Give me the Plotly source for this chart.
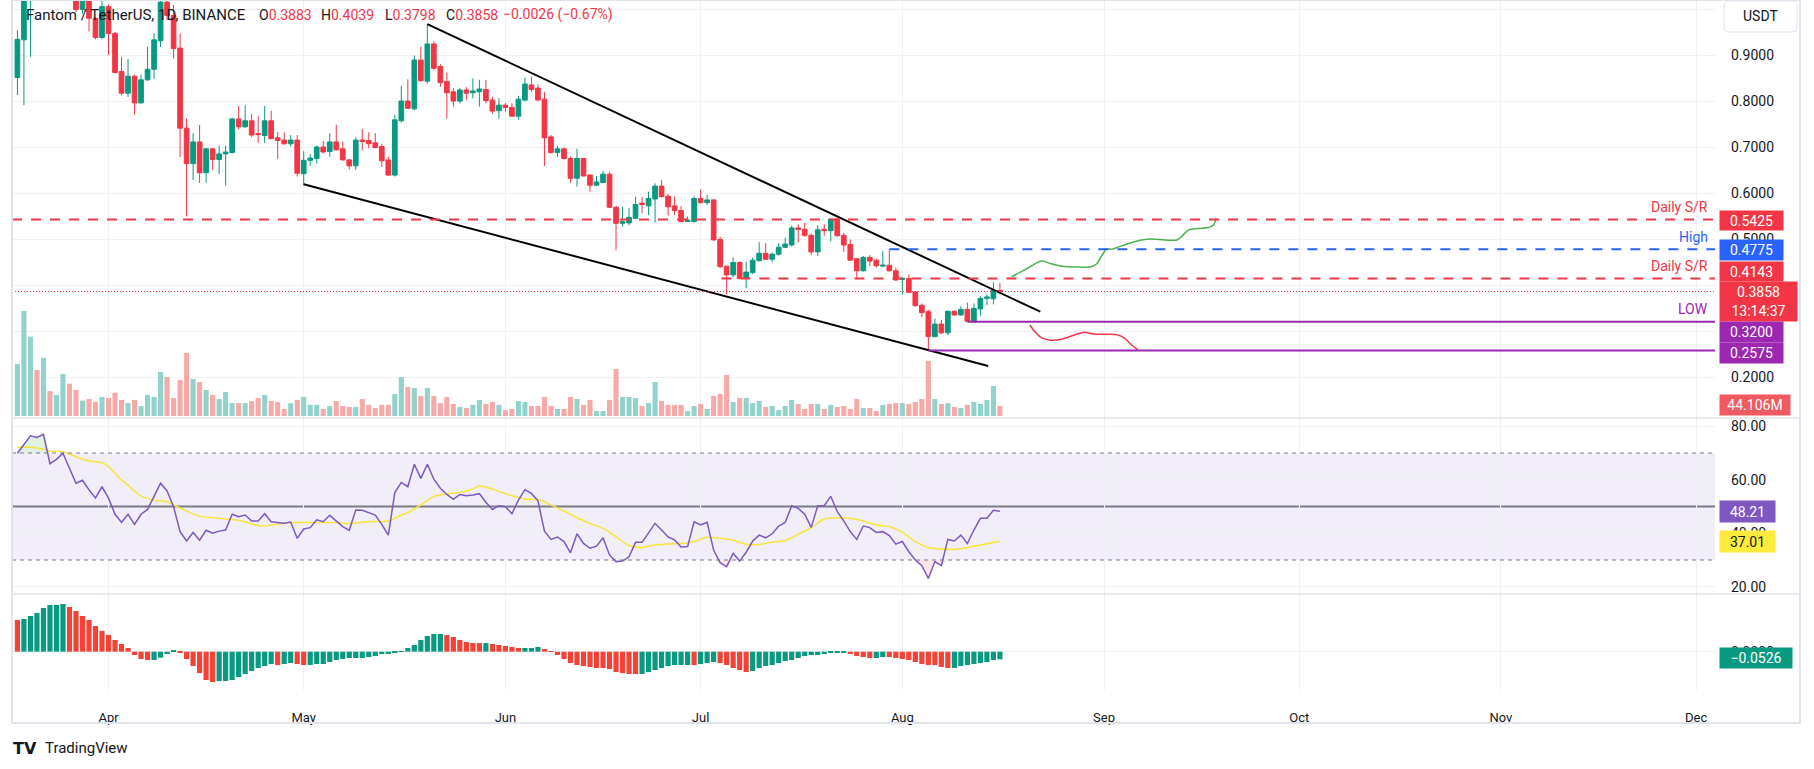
import pandas as pd
import numpy as np
import plotly.graph_objects as go

# ---------------- data ----------------
start_date = "2024-03-18"

opens = [0.851, 0.933, 1.045, 1.110, 1.060, 1.120, 1.080, 1.110, 1.150, 1.090,
         0.999, 1.035, 0.980, 0.938, 1.005, 0.947, 0.864, 0.817, 0.854, 0.796,
         0.846, 0.869, 0.931, 1.015, 0.986, 0.915, 0.741, 0.664, 0.711, 0.644,
         0.696, 0.673, 0.685, 0.688, 0.761, 0.744, 0.757, 0.729, 0.725, 0.757,
         0.720, 0.715, 0.707, 0.715, 0.642, 0.671, 0.675, 0.700, 0.690, 0.711,
         0.696, 0.672, 0.659, 0.715, 0.714, 0.709, 0.701, 0.672, 0.639, 0.757,
         0.800, 0.783, 0.889, 0.843, 0.924, 0.875, 0.842, 0.820, 0.800, 0.824,
         0.818, 0.820, 0.825, 0.802, 0.779, 0.791, 0.786, 0.767, 0.802, 0.835,
         0.828, 0.804, 0.722, 0.688, 0.696, 0.675, 0.632, 0.675, 0.639, 0.617,
         0.623, 0.641, 0.569, 0.534, 0.535, 0.545, 0.578, 0.572, 0.587, 0.615,
         0.593, 0.572, 0.562, 0.538, 0.538, 0.588, 0.579, 0.585, 0.499, 0.441,
         0.422, 0.449, 0.414, 0.427, 0.453, 0.469, 0.456, 0.467, 0.482, 0.487,
         0.524, 0.521, 0.508, 0.472, 0.521, 0.518, 0.543, 0.508, 0.488, 0.457,
         0.431, 0.460, 0.454, 0.441, 0.443, 0.431, 0.412, 0.414, 0.385, 0.356,
         0.342, 0.288, 0.315, 0.296, 0.343, 0.335, 0.347, 0.320, 0.348, 0.371,
         0.370, 0.3883]

highs = [0.954, 1.065, 1.125, 1.160, 1.150, 1.140, 1.130, 1.180, 1.160, 1.100,
         1.060, 1.045, 0.982, 1.025, 1.010, 0.950, 0.895, 0.891, 0.857, 0.857,
         0.918, 0.947, 1.030, 1.030, 1.009, 0.947, 0.762, 0.730, 0.748, 0.697,
         0.697, 0.703, 0.703, 0.764, 0.789, 0.791, 0.772, 0.767, 0.789, 0.779,
         0.733, 0.732, 0.726, 0.726, 0.691, 0.685, 0.703, 0.713, 0.730, 0.748,
         0.712, 0.674, 0.721, 0.739, 0.732, 0.730, 0.707, 0.679, 0.770, 0.833,
         0.847, 0.899, 0.918, 0.967, 0.930, 0.880, 0.862, 0.828, 0.828, 0.830,
         0.849, 0.846, 0.846, 0.809, 0.806, 0.796, 0.795, 0.811, 0.851, 0.853,
         0.836, 0.820, 0.726, 0.702, 0.699, 0.679, 0.696, 0.676, 0.641, 0.637,
         0.648, 0.646, 0.572, 0.570, 0.567, 0.592, 0.591, 0.603, 0.621, 0.628,
         0.598, 0.592, 0.572, 0.549, 0.593, 0.608, 0.596, 0.586, 0.505, 0.441,
         0.460, 0.451, 0.451, 0.460, 0.493, 0.491, 0.471, 0.491, 0.503, 0.529,
         0.532, 0.535, 0.512, 0.530, 0.532, 0.545, 0.545, 0.513, 0.499, 0.458,
         0.463, 0.465, 0.458, 0.474, 0.4775, 0.438, 0.418, 0.423, 0.386, 0.360,
         0.346, 0.327, 0.324, 0.344, 0.345, 0.354, 0.362, 0.360, 0.376, 0.380,
         0.406, 0.4039]

lows = [0.813, 0.791, 0.896, 1.040, 1.040, 1.060, 1.060, 1.090, 1.070, 0.993,
        0.990, 0.951, 0.934, 0.934, 0.900, 0.860, 0.813, 0.809, 0.770, 0.794,
        0.844, 0.848, 0.917, 0.976, 0.892, 0.678, 0.549, 0.628, 0.622, 0.622,
        0.650, 0.641, 0.616, 0.686, 0.738, 0.741, 0.721, 0.709, 0.709, 0.717,
        0.674, 0.705, 0.701, 0.636, 0.617, 0.659, 0.664, 0.686, 0.679, 0.692,
        0.670, 0.651, 0.650, 0.693, 0.697, 0.697, 0.657, 0.638, 0.636, 0.753,
        0.783, 0.780, 0.843, 0.838, 0.867, 0.831, 0.762, 0.788, 0.795, 0.802,
        0.806, 0.788, 0.795, 0.772, 0.761, 0.777, 0.766, 0.759, 0.799, 0.820,
        0.801, 0.659, 0.685, 0.679, 0.673, 0.622, 0.614, 0.636, 0.603, 0.615,
        0.621, 0.567, 0.475, 0.527, 0.530, 0.543, 0.556, 0.552, 0.536, 0.590,
        0.551, 0.552, 0.536, 0.537, 0.536, 0.577, 0.574, 0.496, 0.436, 0.380,
        0.417, 0.412, 0.393, 0.424, 0.451, 0.455, 0.449, 0.464, 0.480, 0.484,
        0.493, 0.505, 0.465, 0.463, 0.507, 0.495, 0.505, 0.472, 0.453, 0.414,
        0.429, 0.441, 0.438, 0.440, 0.429, 0.409, 0.379, 0.383, 0.353, 0.330,
        0.2575, 0.286, 0.293, 0.291, 0.333, 0.333, 0.320, 0.319, 0.333, 0.356,
        0.358, 0.3798]

closes = [0.934, 1.045, 1.100, 1.060, 1.120, 1.080, 1.110, 1.150, 1.090, 0.999,
          1.035, 0.980, 0.938, 1.005, 0.947, 0.862, 0.817, 0.854, 0.796, 0.846,
          0.869, 0.933, 1.015, 0.986, 0.914, 0.741, 0.664, 0.711, 0.644, 0.696,
          0.673, 0.685, 0.689, 0.761, 0.744, 0.757, 0.726, 0.727, 0.757, 0.718,
          0.714, 0.707, 0.715, 0.643, 0.671, 0.676, 0.700, 0.689, 0.711, 0.694,
          0.672, 0.659, 0.715, 0.712, 0.707, 0.699, 0.670, 0.639, 0.759, 0.800,
          0.784, 0.889, 0.844, 0.924, 0.871, 0.840, 0.818, 0.800, 0.824, 0.817,
          0.822, 0.826, 0.801, 0.778, 0.791, 0.786, 0.767, 0.804, 0.837, 0.825,
          0.802, 0.720, 0.688, 0.696, 0.675, 0.632, 0.675, 0.637, 0.617, 0.624,
          0.641, 0.569, 0.534, 0.538, 0.547, 0.575, 0.575, 0.588, 0.615, 0.592,
          0.570, 0.562, 0.538, 0.541, 0.588, 0.579, 0.585, 0.498, 0.440, 0.422,
          0.449, 0.414, 0.428, 0.454, 0.469, 0.456, 0.467, 0.482, 0.489, 0.524,
          0.521, 0.508, 0.472, 0.520, 0.518, 0.543, 0.507, 0.487, 0.454, 0.431,
          0.460, 0.452, 0.442, 0.443, 0.431, 0.411, 0.414, 0.384, 0.355, 0.340,
          0.288, 0.315, 0.296, 0.343, 0.335, 0.347, 0.321, 0.349, 0.371, 0.374,
          0.3883, 0.3858]

volumes_m = [229, 463, 350, 203, 257, 110, 93, 185, 143, 115,
             68, 75, 62, 84, 79, 103, 71, 57, 71, 44,
             93, 84, 194, 172, 79, 159, 278, 163, 150, 115,
             93, 75, 106, 57, 57, 57, 66, 79, 93, 66,
             62, 31, 57, 71, 84, 49, 49, 31, 44, 66,
             44, 40, 40, 75, 49, 35, 49, 49, 97, 172,
             128, 123, 88, 123, 88, 57, 84, 53, 40, 35,
             49, 71, 53, 62, 49, 26, 31, 66, 62, 44,
             44, 84, 44, 31, 31, 84, 75, 49, 71, 22,
             22, 71, 207, 84, 84, 79, 44, 57, 150, 66,
             49, 49, 49, 22, 44, 53, 31, 88, 97, 181,
             62, 79, 79, 57, 66, 40, 44, 26, 44, 71,
             53, 31, 53, 53, 31, 49, 40, 44, 31, 75,
             35, 35, 22, 49, 53, 57, 57, 53, 62, 75,
             243, 75, 53, 57, 40, 35, 49, 62, 53, 71,
             132, 44.106]

rsi_vals = [69.9, 73.2, 76.4, 75.8, 77.0, 66.0, 67.6, 69.9, 64.3, 58.7,
            59.8, 56.2, 53.2, 57.4, 53.1, 47.1, 44.1, 47.1, 43.3, 47.1,
            48.9, 53.7, 58.7, 55.8, 49.9, 40.6, 37.1, 40.3, 37.4, 41.1,
            40.0, 40.8, 41.2, 47.1, 46.2, 46.8, 44.6, 44.6, 47.3, 44.3,
            44.0, 43.7, 44.2, 38.1, 41.6, 42.1, 45.0, 44.3, 46.7, 44.6,
            42.5, 41.1, 48.7, 48.6, 47.8, 46.8, 43.3, 39.3, 55.2, 59.0,
            57.4, 65.8, 60.5, 65.8, 60.2, 56.8, 54.5, 52.7, 54.5, 54.0,
            54.3, 54.8, 51.6, 48.9, 50.3, 49.9, 47.3, 52.4, 56.3, 54.9,
            52.1, 40.8, 37.7, 38.6, 36.9, 32.7, 39.8, 36.2, 34.4, 35.2,
            38.3, 31.9, 29.4, 29.6, 31.2, 36.6, 36.6, 40.0, 43.7, 41.2,
            38.6, 37.5, 34.9, 35.0, 44.3, 43.1, 44.1, 33.7, 29.0, 27.5,
            32.5, 29.6, 32.9, 37.1, 39.3, 38.3, 39.8, 42.7, 44.0, 50.3,
            49.3, 47.1, 42.2, 50.3, 50.3, 53.8, 48.1, 44.6, 40.6, 37.7,
            42.7, 42.1, 40.3, 40.6, 39.1, 35.9, 36.9, 33.1, 30.0, 27.9,
            23.1, 29.4, 27.9, 37.7, 37.1, 39.3, 36.1, 41.2, 45.6, 45.6,
            48.6, 48.21]

rsi_ma_day = [0, 2, 4, 5, 7, 9, 11, 13, 14, 15, 16, 17, 18, 19, 21, 23, 24, 26, 28, 31,
              33, 35, 37, 38, 41, 43, 46, 49, 51, 54, 57, 59, 60, 62, 64, 66, 68, 70, 71, 73,
              76, 78, 80, 82, 84, 86, 88, 90, 92, 94, 96, 98, 100, 102, 104, 106, 108, 110,
              112, 114, 116, 118, 120, 122, 124, 126, 128, 130, 132, 134, 136, 138, 140,
              142, 144, 146, 148, 151]
rsi_ma_vals = [72.1, 72.1, 71.4, 70.7, 70.5, 68.6, 67.0, 66.4, 64.9, 62.4, 59.9, 58.0, 55.8,
               54.0, 52.3, 51.8, 50.6, 48.3, 46.4, 45.6, 45.1, 44.3, 42.8, 42.7, 43.7, 44.0,
               44.0, 44.0, 43.6, 44.3, 44.6, 46.8, 47.7, 50.6, 53.7, 54.7, 55.3, 56.5, 57.7,
               56.5, 54.0, 52.8, 52.6, 50.6, 48.3, 45.8, 43.7, 41.8, 38.7, 35.4, 34.7, 35.6,
               36.0, 36.1, 36.9, 38.5, 38.1, 37.4, 35.9, 35.8, 36.7, 37.2, 39.6, 42.1, 45.3,
               45.8, 45.6, 44.6, 43.1, 42.5, 40.3, 36.9, 34.7, 34.1, 33.9, 34.6, 35.6, 37.01]

macd_hist = [0.2176, 0.2244, 0.2450, 0.2656, 0.3000, 0.3206, 0.3210, 0.3275, 0.3069, 0.2794,
             0.2450, 0.2176, 0.1763, 0.1420, 0.1145, 0.0802, 0.0527, 0.0252, -0.0229, -0.0504,
             -0.0573, -0.0572, -0.0412, -0.0160, 0.0115, -0.0092, -0.0504, -0.0985, -0.1466, -0.1947,
             -0.2084, -0.2015, -0.2010, -0.1947, -0.1740, -0.1534, -0.1328, -0.1122, -0.0985, -0.0847,
             -0.0916, -0.0847, -0.0779, -0.0847, -0.0916, -0.0910, -0.0847, -0.0845, -0.0710, -0.0573,
             -0.0504, -0.0435, -0.0433, -0.0431, -0.0366, -0.0298, -0.0160, -0.0158, -0.0092, 0.0046,
             0.0252, 0.0458, 0.0802, 0.1076, 0.1214, 0.1216, 0.1145, 0.1008, 0.0802, 0.0664,
             0.0595, 0.0590, 0.0592, 0.0527, 0.0458, 0.0389, 0.0321, 0.0252, 0.0253, 0.0254,
             0.0321, 0.0183, 0.0046, -0.0229, -0.0504, -0.0779, -0.0916, -0.0985, -0.1053, -0.1122,
             -0.1125, -0.1191, -0.1397, -0.1466, -0.1534, -0.1536, -0.1533, -0.1397, -0.1260, -0.1122,
             -0.0985, -0.0916, -0.0915, -0.0914, -0.0918, -0.0847, -0.0779, -0.0710, -0.0779, -0.0916,
             -0.1122, -0.1260, -0.1397, -0.1328, -0.1122, -0.0985, -0.0916, -0.0779, -0.0641, -0.0573,
             -0.0435, -0.0298, -0.0229, -0.0228, -0.0160, -0.0092, -0.0091, -0.0090, -0.0160, -0.0298,
             -0.0366, -0.0435, -0.0434, -0.0366, -0.0368, -0.0435, -0.0504, -0.0573, -0.0710, -0.0847,
             -0.0916, -0.0918, -0.1053, -0.1122, -0.1121, -0.0985, -0.0916, -0.0847, -0.0779, -0.0710,
             -0.0573, -0.0526]

month_ticks = ["2024-04-01", "2024-05-01", "2024-06-01", "2024-07-01", "2024-08-01",
               "2024-09-01", "2024-10-01", "2024-11-01", "2024-12-01"]
month_labels = ["Apr", "May", "Jun", "Jul", "Aug", "Sep", "Oct", "Nov", "Dec"]
price_ticks = [0.2, 0.3, 0.4, 0.5, 0.6, 0.7, 0.8, 0.9, 1.0]
# 0.3000 / 0.4000 / 1.0000 are fully hidden under the coloured labels in the reference
price_tick_labels = ["0.2000", "", "", "0.5000", "0.6000", "0.7000", "0.8000", "0.9000", ""]
rsi_ticks = [20, 40, 60, 80]
rsi_tick_labels = ["20.00", "40.00", "60.00", "80.00"]

# levels / drawings (price, and start as day offset from first candle)
sr_upper = 0.5425
swing_high = 0.4775
swing_high_start = 134
sr_lower = 0.4143
sr_lower_start = 108.2
last_price = 0.3858
low_level_1 = 0.3200
low_level_1_start = 146
low_level_2 = 0.2575
low_level_2_start = 140
last_volume = 44.106
last_rsi = 48.21
last_rsi_ma = 37.01
last_macd = -0.0526

upper_trend_day = [63, 157.2]
upper_trend_price = [0.967, 0.342]
lower_trend_day = [44, 149.2]
lower_trend_price = [0.619, 0.224]

bull_path_day = [152.8, 154.3, 155.8, 157.4, 158.9, 160.5, 163.0, 164.8, 165.8, 166.6, 167.4,
                 168.2, 169.7, 171.2, 172.8, 174.3, 176.4, 178.2, 178.9, 180.0, 181.5, 183.0,
                 183.8, 184.2]
bull_path_price = [0.418, 0.429, 0.441, 0.452, 0.446, 0.441, 0.439, 0.439, 0.445, 0.463, 0.478,
                   0.478, 0.485, 0.492, 0.498, 0.500, 0.498, 0.498, 0.505, 0.520, 0.523, 0.525,
                   0.530, 0.545]
bear_path_day = [155.6, 156.4, 157.4, 158.9, 160.5, 162.0, 163.8, 165.6, 167.6, 169.2, 170.2,
                 171.2, 172.2]
bear_path_price = [0.313, 0.298, 0.285, 0.280, 0.282, 0.289, 0.297, 0.293, 0.293, 0.291, 0.284,
                   0.270, 0.259]

# ---------------- layout helpers ----------------
W, H = 1814, 769
PL, PR, PT, PB = 12, 1715, 0, 690
PW, PH = PR - PL, PB - PT


def PX(x):
    return (x - PL) / PW


def PY(y):
    return 1 - (y - PT) / PH


UP = "#089981"
DN = "#F23645"
UPV = "#92D2CC"
DNV = "#F7A9A7"
TXT = "#131722"
GRID = "#F0F1F4"
FONT = "Roboto"

base = pd.Timestamp(start_date)
dates = pd.date_range(base, periods=len(closes), freq="D")


def day(d):
    return base + pd.to_timedelta(np.asarray(d, dtype=float), unit="D")


x_range = [base - pd.Timedelta(hours=20), base + pd.Timedelta(days=260.9)]
xr_end = x_range[1]

up_mask = [c >= o for o, c in zip(opens, closes)]
vol_colors = [UPV if u else DNV for u in up_mask]
macd_colors = ["#F44336"] + [UP if macd_hist[i] >= macd_hist[i - 1] else "#F44336"
                             for i in range(1, len(macd_hist))]

fig = go.Figure()

# volume (overlay on price pane)
fig.add_trace(go.Bar(x=dates, y=volumes_m, marker_color=vol_colors, marker_line_width=0,
                     width=0.78 * 86400000, xaxis="x", yaxis="y4", hoverinfo="skip",
                     showlegend=False))

# candles
fig.add_trace(go.Candlestick(x=dates, open=opens, high=highs, low=lows, close=closes,
                             increasing=dict(line=dict(color=UP, width=1), fillcolor=UP),
                             decreasing=dict(line=dict(color=DN, width=1), fillcolor=DN),
                             whiskerwidth=0, xaxis="x", yaxis="y", hoverinfo="skip",
                             showlegend=False))

# trendlines and projection paths
fig.add_trace(go.Scatter(x=day(upper_trend_day), y=upper_trend_price, mode="lines",
                         line=dict(color="#000000", width=2), xaxis="x", yaxis="y",
                         hoverinfo="skip", showlegend=False))
fig.add_trace(go.Scatter(x=day(lower_trend_day), y=lower_trend_price, mode="lines",
                         line=dict(color="#000000", width=2), xaxis="x", yaxis="y",
                         hoverinfo="skip", showlegend=False))
fig.add_trace(go.Scatter(x=day(bull_path_day), y=bull_path_price, mode="lines",
                         line=dict(color="#4CAF50", width=1.5, shape="spline"), xaxis="x",
                         yaxis="y", hoverinfo="skip", showlegend=False))
fig.add_trace(go.Scatter(x=day(bear_path_day), y=bear_path_price, mode="lines",
                         line=dict(color="#F23645", width=1.5, shape="spline"), xaxis="x",
                         yaxis="y", hoverinfo="skip", showlegend=False))

# RSI fills (overbought / oversold)
rsi_arr = np.array(rsi_vals)
fig.add_trace(go.Scatter(x=dates, y=[70] * len(dates), mode="lines", line=dict(width=0),
                         xaxis="x2", yaxis="y2", hoverinfo="skip", showlegend=False))
fig.add_trace(go.Scatter(x=dates, y=np.maximum(rsi_arr, 70), mode="lines", line=dict(width=0),
                         fill="tonexty", fillcolor="rgba(76,175,80,0.18)", xaxis="x2",
                         yaxis="y2", hoverinfo="skip", showlegend=False))
fig.add_trace(go.Scatter(x=dates, y=[30] * len(dates), mode="lines", line=dict(width=0),
                         xaxis="x2", yaxis="y2", hoverinfo="skip", showlegend=False))
fig.add_trace(go.Scatter(x=dates, y=np.minimum(rsi_arr, 30), mode="lines", line=dict(width=0),
                         fill="tonexty", fillcolor="rgba(242,54,69,0.12)", xaxis="x2",
                         yaxis="y2", hoverinfo="skip", showlegend=False))
# RSI MA and RSI
fig.add_trace(go.Scatter(x=day(rsi_ma_day), y=rsi_ma_vals, mode="lines",
                         line=dict(color="#F9E43A", width=1.5, shape="spline", smoothing=0.8),
                         xaxis="x2", yaxis="y2", hoverinfo="skip", showlegend=False))
fig.add_trace(go.Scatter(x=dates, y=rsi_vals, mode="lines",
                         line=dict(color="#7E57C2", width=1.5), xaxis="x2", yaxis="y2",
                         hoverinfo="skip", showlegend=False))

# MACD histogram
fig.add_trace(go.Bar(x=dates, y=macd_hist, marker_color=macd_colors, marker_line_width=0,
                     width=0.8 * 86400000, xaxis="x3", yaxis="y3", hoverinfo="skip",
                     showlegend=False))

# ---------------- axes ----------------
main_dom = [PY(418), 1.0]
rsi_dom = [PY(594), PY(418)]
macd_dom = [0.0, PY(594)]

xcommon = dict(type="date", range=x_range, showgrid=True, gridcolor=GRID, gridwidth=1,
               tickvals=month_ticks, ticktext=month_labels, zeroline=False, showline=False,
               ticks="", fixedrange=True)

fig.update_layout(
    width=W, height=H,
    margin=dict(l=PL, r=W - PR, t=PT, b=H - PB, pad=0),
    paper_bgcolor="white", plot_bgcolor="white",
    showlegend=False, hovermode=False,
    boxgap=0.28, boxgroupgap=0, bargap=0.2,
    font=dict(family=FONT, color=TXT, size=14),
    xaxis=dict(**xcommon, anchor="y", showticklabels=False, rangeslider=dict(visible=False)),
    xaxis2=dict(**xcommon, anchor="y2", matches="x", showticklabels=False),
    xaxis3=dict(**xcommon, anchor="y3", matches="x", showticklabels=True,
                tickfont=dict(size=13, color=TXT, family=FONT), ticklabelstandoff=18),
    yaxis=dict(domain=main_dom, range=[0.11087, 1.01957], side="right", tickvals=price_ticks,
               ticktext=price_tick_labels, showgrid=True, gridcolor=GRID, zeroline=False,
               ticks="", ticklabelstandoff=15, tickfont=dict(size=14, color=TXT), fixedrange=True),
    yaxis4=dict(domain=main_dom, overlaying="y", range=[-8.8, 1834.6], visible=False,
                fixedrange=True),
    yaxis2=dict(domain=rsi_dom, range=[17.29, 83.08], side="right", tickvals=rsi_ticks,
                ticktext=rsi_tick_labels, showgrid=True, gridcolor=GRID, zeroline=False,
                ticks="", ticklabelstandoff=15, tickfont=dict(size=14, color=TXT), fixedrange=True),
    yaxis3=dict(domain=macd_dom, range=[-0.263, 0.396], side="right", tickvals=[0],
                ticktext=["0.0000"], showgrid=True, gridcolor=GRID, zeroline=False,
                ticks="", ticklabelstandoff=15, tickfont=dict(size=14, color=TXT), fixedrange=True),
)

shapes = []
# RSI band and guide lines
shapes.append(dict(type="rect", xref="paper", x0=0, x1=1, yref="y2", y0=30, y1=70,
                   fillcolor="rgba(126,87,194,0.10)", line=dict(width=0), layer="below"))
for lvl in (70, 30):
    shapes.append(dict(type="line", xref="paper", x0=0, x1=1, yref="y2", y0=lvl, y1=lvl,
                       line=dict(color="#787B86", width=1, dash="4px,4px"), layer="above"))
shapes.append(dict(type="line", xref="paper", x0=0, x1=1, yref="y2", y0=50, y1=50,
                   line=dict(color="#787B86", width=2), layer="below"))

# horizontal levels on price pane
shapes.append(dict(type="line", xref="paper", x0=0, x1=1, yref="y", y0=sr_upper, y1=sr_upper,
                   line=dict(color="#F23645", width=2, dash="10px,9px"), layer="above"))
shapes.append(dict(type="line", xref="x", x0=day(swing_high_start), x1=xr_end, yref="y",
                   y0=swing_high, y1=swing_high,
                   line=dict(color="#2962FF", width=2, dash="10px,9px"), layer="above"))
shapes.append(dict(type="line", xref="x", x0=day(sr_lower_start), x1=xr_end, yref="y",
                   y0=sr_lower, y1=sr_lower,
                   line=dict(color="#F23645", width=2, dash="10px,9px"), layer="above"))
shapes.append(dict(type="line", xref="paper", x0=0, x1=1, yref="y", y0=last_price, y1=last_price,
                   line=dict(color="#F23645", width=1, dash="1px,2px"), layer="above"))
shapes.append(dict(type="line", xref="x", x0=day(low_level_1_start), x1=xr_end, yref="y",
                   y0=low_level_1, y1=low_level_1, line=dict(color="#9C27B0", width=2),
                   layer="above"))
shapes.append(dict(type="line", xref="x", x0=day(low_level_2_start), x1=xr_end, yref="y",
                   y0=low_level_2, y1=low_level_2, line=dict(color="#9C27B0", width=2),
                   layer="above"))

# pane separators & frame
for yy in (418, 594):
    shapes.append(dict(type="line", xref="paper", x0=PX(12), x1=PX(1800), yref="paper",
                       y0=PY(yy), y1=PY(yy), line=dict(color="#E0E3EB", width=1.5),
                       layer="above"))
shapes.append(dict(type="rect", xref="paper", x0=PX(12), x1=PX(1800), yref="paper",
                   y0=PY(723), y1=PY(0), line=dict(color="#E0E3EB", width=2),
                   fillcolor="rgba(0,0,0,0)", layer="above"))

# USDT box (rounded)
bx0, bx1, by0, by1, r = 1724, 1797, 1, 32, 5
path = (f"M {PX(bx0 + r)},{PY(by0)} L {PX(bx1 - r)},{PY(by0)} Q {PX(bx1)},{PY(by0)} {PX(bx1)},{PY(by0 + r)} "
        f"L {PX(bx1)},{PY(by1 - r)} Q {PX(bx1)},{PY(by1)} {PX(bx1 - r)},{PY(by1)} "
        f"L {PX(bx0 + r)},{PY(by1)} Q {PX(bx0)},{PY(by1)} {PX(bx0)},{PY(by1 - r)} "
        f"L {PX(bx0)},{PY(by0 + r)} Q {PX(bx0)},{PY(by0)} {PX(bx0 + r)},{PY(by0)} Z")
shapes.append(dict(type="path", path=path, xref="paper", yref="paper",
                   line=dict(color="#E0E3EB", width=1), fillcolor="white", layer="above"))
fig.update_layout(shapes=shapes)

# ---------------- annotations ----------------
ann = []


def label_box(text, yref, y, bg, width, height=19, yshift=0, fc="white"):
    return dict(text=text, xref="paper", x=PX(1719), xanchor="left", yref=yref, y=y,
                yanchor="middle", yshift=yshift, showarrow=False, bgcolor=bg, width=width,
                height=height, borderpad=0, align="center",
                font=dict(color=fc, size=14, family=FONT))


ann.append(label_box(f"{sr_upper:.4f}", "y", sr_upper, "#F23645", 63, yshift=-1))
ann.append(label_box(f"{swing_high:.4f}", "y", swing_high, "#2962FF", 63, height=20, yshift=-1))
ann.append(label_box(f"{sr_lower:.4f}", "y", sr_lower, "#F23645", 63, yshift=7))
ann.append(label_box(f"{last_price:.4f}<br>13:14:37", "y", last_price, "#F23645", 77, height=39,
                     yshift=-10))
ann.append(label_box(f"{low_level_1:.4f}", "y", low_level_1, "#9C27B0", 63, height=20, yshift=-10))
ann.append(label_box(f"{low_level_2:.4f}", "y", low_level_2, "#9C27B0", 63, height=20, yshift=-2))
ann.append(dict(text=f"{last_volume:.3f}M", xref="paper", x=PX(1719), xanchor="left",
                yref="paper", y=PY(405), yanchor="middle", showarrow=False, bgcolor="#F05A60",
                width=70, height=20, borderpad=0, font=dict(color="white", size=14, family=FONT)))
ann.append(label_box(f"{last_rsi:.2f}", "y2", last_rsi, "#7E57C2", 55, height=21))
ann.append(label_box(f"{last_rsi_ma:.2f}", "y2", last_rsi_ma, "#FFEB3B", 55, height=21, fc=TXT))
ann.append(label_box(f"\u2212{abs(last_macd):.4f}", "y3", last_macd, "#089981", 72, height=20,
                     yshift=1))

# level captions
for txt, y, col in (("Daily S/R", sr_upper, "#F23645"), ("High", swing_high, "#2962FF"),
                    ("Daily S/R", sr_lower, "#F23645"), ("LOW", low_level_1, "#9C27B0")):
    ann.append(dict(text=txt, xref="paper", x=PX(1710), xanchor="right", yref="y", y=y,
                    yanchor="middle", yshift=12.5, showarrow=False,
                    font=dict(color=col, size=14, family=FONT)))

# USDT
ann.append(dict(text="USDT", xref="paper", x=PX(1760), xanchor="center", yref="paper",
                y=PY(16), yanchor="middle", showarrow=False,
                font=dict(color=TXT, size=14, family=FONT)))

# header legend
RED = "#F23645"
head_items = [
    (24, "Fantom / TetherUS, 1D, BINANCE", TXT, 15),
    (257, f"O<span style='color:{RED}'>{opens[-1]:.4f}</span>", TXT, 14),
    (319, f"H<span style='color:{RED}'>{highs[-1]:.4f}</span>", TXT, 14),
    (383, f"L<span style='color:{RED}'>{lows[-1]:.4f}</span>", TXT, 14),
    (444, f"C<span style='color:{RED}'>{closes[-1]:.4f}</span>", TXT, 14),
    (501, "\u22120.0026 (\u22120.67%)", RED, 14),
]
for xpx, txt, col, fs in head_items:
    ann.append(dict(text=txt, xref="paper", x=PX(xpx), xanchor="left", yref="paper", y=PY(15),
                    yanchor="middle", showarrow=False,
                    font=dict(color=col, size=fs, family=FONT)))

# footer
ann.append(dict(text="<b>TV</b>", xref="paper", x=PX(11), xanchor="left", yref="paper",
                y=PY(748), yanchor="middle", showarrow=False,
                font=dict(color=TXT, size=16, family="DejaVu Sans")))
ann.append(dict(text="TradingView", xref="paper", x=PX(43), xanchor="left", yref="paper",
                y=PY(748), yanchor="middle", showarrow=False,
                font=dict(color=TXT, size=15, family=FONT)))

fig.update_layout(annotations=ann)

fig.write_html("out.html", config={"displayModeBar": False},
               post_script="document.body.style.margin='0px';document.body.style.padding='0px';")
